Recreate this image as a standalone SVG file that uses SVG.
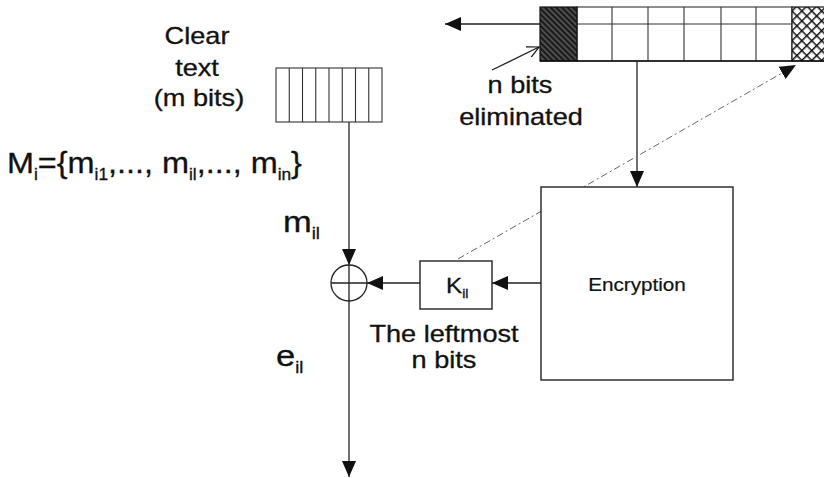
<svg xmlns="http://www.w3.org/2000/svg" width="824" height="478" viewBox="0 0 824 478">
<style>
.ln{stroke:#222;stroke-width:1.3;fill:none}
.box{stroke:#222;stroke-width:1.4;fill:#fff}
.cell{stroke:#333;stroke-width:1.1;fill:none}
.dash{stroke:#666;stroke-width:1;fill:none;stroke-dasharray:7 3 2 3}
.lbl{font-family:"Liberation Sans",Arial,sans-serif;font-size:23px;fill:#111;stroke:#111;stroke-width:0.3}
.big{font-family:"Liberation Sans",Arial,sans-serif;font-size:30px;fill:#111;stroke:#111;stroke-width:0.3}
.sub{font-size:16px}
</style>
<defs>
<marker id="ah" markerUnits="userSpaceOnUse" markerWidth="18" markerHeight="16" refX="16" refY="7" orient="auto"><path d="M0,0 L16,7 L0,14 Z" fill="#111"/></marker>
<marker id="open" markerUnits="userSpaceOnUse" markerWidth="14" markerHeight="12" refX="12" refY="6" orient="auto"><path d="M0,0 L12,6 L0,12" fill="none" stroke="#111" stroke-width="1.2"/></marker>
<pattern id="hatch" patternUnits="userSpaceOnUse" width="4" height="4" patternTransform="rotate(45)"><rect width="4" height="4" fill="#1a1a1a"/><line x1="0" y1="2" x2="4" y2="2" stroke="#9a9a9a" stroke-width="0.8"/></pattern>
<pattern id="cross" patternUnits="userSpaceOnUse" width="7" height="7" patternTransform="rotate(45)"><rect width="7" height="7" fill="#fff"/><path d="M0,0 H7 M0,0 V7" stroke="#111" stroke-width="3"/></pattern>
</defs>

<g id="connectors">
<line class="ln" x1="540" y1="24" x2="445" y2="24" marker-end="url(#ah)"/>
<line class="ln" x1="637" y1="61" x2="637" y2="187" marker-end="url(#ah)"/>
<line class="ln" x1="541" y1="283" x2="492" y2="283" marker-end="url(#ah)"/>
<line class="ln" x1="420" y1="283" x2="367" y2="283" marker-end="url(#ah)"/>
<line class="ln" x1="349" y1="122" x2="349" y2="265" marker-end="url(#ah)"/>
<line class="ln" x1="349" y1="265" x2="349" y2="477" marker-end="url(#ah)"/>
<line class="ln" x1="492" y1="70" x2="539" y2="47" marker-end="url(#open)"/>
<line class="dash" x1="458" y1="259" x2="796" y2="65" marker-end="url(#ah)"/>
</g>

<g id="key-register">
<rect x="577" y="7" width="215" height="54" class="cell" fill="#fff"/>
<rect x="540" y="7" width="37" height="54" fill="url(#hatch)" stroke="#111" stroke-width="1.2"/>
<rect x="792" y="7" width="36" height="54" fill="url(#cross)" stroke="#111" stroke-width="1.2"/>
<path class="cell" d="M577,24 H792 M612,7 V61 M648,7 V61 M684,7 V61 M721,7 V61 M756,7 V61"/>
<line x1="540" y1="61" x2="824" y2="61" stroke="#111" stroke-width="1.6"/>
</g>

<g id="clear-register">
<rect x="276" y="68" width="106" height="54" class="cell" fill="#fff"/>
<path class="cell" d="M289.25,68 V122 M302.5,68 V122 M315.75,68 V122 M329,68 V122 M342.25,68 V122 M355.5,68 V122 M368.75,68 V122"/>
</g>

<g id="xor">
<circle cx="349" cy="283" r="18" fill="#fff" stroke="#222" stroke-width="1.3"/>
<path class="ln" d="M331,283 H367 M349,265 V301"/>
</g>

<g id="key-box">
<rect x="420" y="261" width="72" height="48" class="box"/>
<text class="lbl" style="font-size:22px" transform="translate(446,293) scale(1.1,1)">K<tspan style="font-size:13px" dy="5">il</tspan></text>
</g>

<g id="encryption">
<rect x="541" y="187" width="192" height="193" class="box"/>
<text class="lbl" style="font-size:18px;stroke-width:0.2" text-anchor="middle" transform="translate(637,291) scale(1.15,1)">Encryption</text>
</g>

<g id="labels">
<text class="lbl" text-anchor="middle" transform="translate(197,44) scale(1.18,1)">Clear</text>
<text class="lbl" text-anchor="middle" transform="translate(197,76) scale(1.18,1)">text</text>
<text class="lbl" text-anchor="middle" transform="translate(199,106) scale(1.18,1)">(m bits)</text>
<text class="lbl" text-anchor="middle" transform="translate(520,93) scale(1.18,1)">n bits</text>
<text class="lbl" text-anchor="middle" transform="translate(521,125) scale(1.18,1)">eliminated</text>
<text class="lbl" text-anchor="middle" transform="translate(444,342) scale(1.18,1)">The leftmost</text>
<text class="lbl" text-anchor="middle" transform="translate(444,368) scale(1.18,1)">n bits</text>
<text class="big" transform="translate(7,173) scale(1.08,1)">M<tspan class="sub" dy="7">i</tspan><tspan dy="-7">={m</tspan><tspan class="sub" dy="7">i1</tspan><tspan dy="-7">,..., m</tspan><tspan class="sub" dy="7">il</tspan><tspan dy="-7">,..., m</tspan><tspan class="sub" dy="7">in</tspan><tspan dy="-7">}</tspan></text>
<text class="big" transform="translate(283,232) scale(1.15,1)">m<tspan class="sub" dy="7">il</tspan></text>
<text class="big" transform="translate(276,366) scale(1.15,1)">e<tspan class="sub" dy="7">il</tspan></text>
</g>
</svg>
